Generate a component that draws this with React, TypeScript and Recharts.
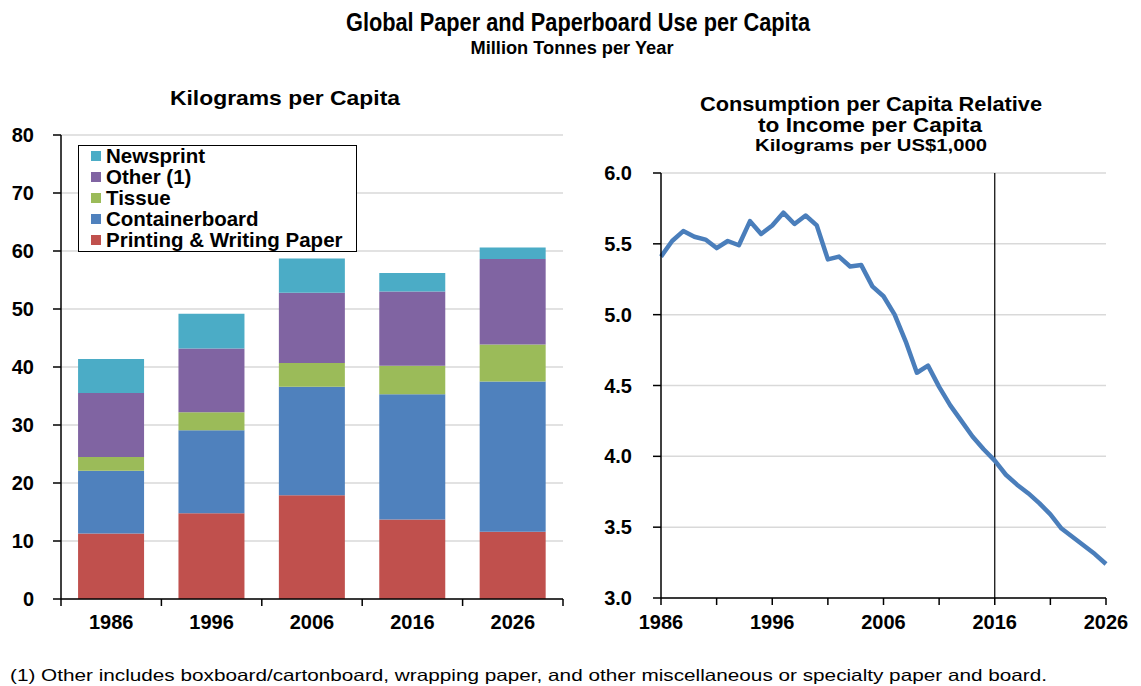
import React from 'react'
import {
  BarChart,
  Bar,
  LineChart,
  Line,
  XAxis,
  YAxis,
  CartesianGrid,
  Legend,
  ReferenceLine,
} from 'recharts'

// left panel: kilograms per capita by grade
const decades = ['1986', '1996', '2006', '2016', '2026']
const printingWriting = [11.3, 14.8, 17.9, 13.7, 11.6]
const containerboard = [10.8, 14.3, 18.7, 21.6, 25.9]
const tissue = [2.4, 3.1, 4.1, 4.9, 6.4]
const other = [11.0, 11.0, 12.1, 12.8, 14.7]
const newsprint = [5.9, 6.0, 5.9, 3.2, 2.0]
const kgTicks = [0, 10, 20, 30, 40, 50, 60, 70, 80]

// right panel: kg per US$1,000 of income
const years = [
  1986, 1987, 1988, 1989, 1990, 1991, 1992, 1993, 1994, 1995, 1996, 1997, 1998, 1999,
  2000, 2001, 2002, 2003, 2004, 2005, 2006, 2007, 2008, 2009, 2010, 2011, 2012, 2013,
  2014, 2015, 2016, 2017, 2018, 2019, 2020, 2021, 2022, 2023, 2024, 2025, 2026,
]
const ratio = [
  5.41, 5.52, 5.59, 5.55, 5.53, 5.47, 5.52, 5.49, 5.66, 5.57, 5.63, 5.72, 5.64, 5.7,
  5.63, 5.39, 5.41, 5.34, 5.35, 5.2, 5.13, 5.0, 4.81, 4.59, 4.64, 4.49, 4.36, 4.25,
  4.14, 4.05, 3.97, 3.87, 3.8, 3.74, 3.67, 3.59, 3.49, 3.43, 3.37, 3.31, 3.24,
]
const ratioTicks = [3, 3.5, 4, 4.5, 5, 5.5, 6]
const yearTicks = [1986, 1991, 1996, 2001, 2006, 2011, 2016, 2021, 2026]

const series = [
  { key: 'pw', name: 'Printing & Writing Paper', color: '#C0504D', values: printingWriting },
  { key: 'cb', name: 'Containerboard', color: '#4F81BD', values: containerboard },
  { key: 'ti', name: 'Tissue', color: '#9BBB59', values: tissue },
  { key: 'ot', name: 'Other (1)', color: '#8064A2', values: other },
  { key: 'np', name: 'Newsprint', color: '#4BACC6', values: newsprint },
]

const barData = decades.map((year, i) => {
  const row: Record<string, string | number> = { year }
  series.forEach((s) => (row[s.key] = s.values[i]))
  return row
})

const lineData = years.map((year, i) => ({ year, ratio: ratio[i] }))

const FONT = "'Liberation Sans', Arial, Helvetica, sans-serif"
const NARROW = "'Liberation Sans Narrow', 'Liberation Sans', Arial, sans-serif"
const tickStyle = { fontFamily: FONT, fontSize: 20, fontWeight: 700, fill: '#000' }
const axisLine = { stroke: '#000', strokeWidth: 1.5 }
const BAR_TICK = 7
const BAR_MARGIN = 9

function BarTick(props: any) {
  const { x, y, payload, index, visibleTicksCount } = props
  const half = payload?.offset || 50.2
  const top = y - BAR_TICK - BAR_MARGIN
  return (
    <g>
      <line x1={x - half} x2={x - half} y1={top} y2={top + BAR_TICK} stroke="#000" strokeWidth={1.5} />
      {index === visibleTicksCount - 1 && (
        <line x1={x + half} x2={x + half} y1={top} y2={top + BAR_TICK} stroke="#000" strokeWidth={1.5} />
      )}
      <text x={x} y={y} dy="0.71em" textAnchor="middle" style={tickStyle}>
        {payload.value}
      </text>
    </g>
  )
}

function YearTick(props: any) {
  const { x, y, payload } = props
  if ((payload.value - 1986) % 10 !== 0) return <g />
  return (
    <text x={x} y={y} dy="0.71em" textAnchor="middle" style={tickStyle}>
      {payload.value}
    </text>
  )
}

function LegendBox(props: any) {
  const payload = props.payload || []
  const order = [...series].reverse()
  return (
    <div
      style={{
        width: 279,
        height: 107,
        boxSizing: 'border-box',
        border: '1.5px solid #000',
        background: '#fff',
        fontFamily: FONT,
        fontWeight: 700,
        fontSize: 20.5,
        color: '#000',
      }}
    >
      {order.map((s) => {
        const item = payload.find((p: any) => p.value === s.name)
        return (
          <div key={s.key} style={{ height: 20.8, display: 'flex', alignItems: 'center', paddingLeft: 12 }}>
            <span style={{ width: 10, height: 10, background: item?.color || s.color, marginRight: 5 }} />
            <span style={{ whiteSpace: 'nowrap' }}>{s.name}</span>
          </div>
        )
      })}
    </div>
  )
}

export default function App() {
  return (
    <div style={{ position: 'absolute', left: 0, top: 0, width: 1141, height: 686, background: '#fff' }}>
      <svg width={1141} height={686} style={{ position: 'absolute', left: 0, top: 0 }}>
        <g fill="#000" fontWeight={700} fontFamily={FONT} textAnchor="middle">
          <text x={578} y={31} fontSize={25} textLength={464} lengthAdjust="spacingAndGlyphs" fontFamily={NARROW}>
            Global Paper and Paperboard Use per Capita
          </text>
          <text x={572} y={54} fontSize={18} textLength={203} lengthAdjust="spacingAndGlyphs" fontFamily={NARROW}>
            Million Tonnes per Year
          </text>
          <text x={285} y={105} fontSize={21} textLength={230} lengthAdjust="spacingAndGlyphs">
            Kilograms per Capita
          </text>
          <text x={871} y={111} fontSize={21} textLength={342} lengthAdjust="spacingAndGlyphs">
            Consumption per Capita Relative
          </text>
          <text x={870} y={132} fontSize={21} textLength={224} lengthAdjust="spacingAndGlyphs">
            to Income per Capita
          </text>
          <text x={871} y={151} fontSize={17} textLength={232} lengthAdjust="spacingAndGlyphs">
            Kilograms per US$1,000
          </text>
        </g>
        <text x={10} y={681} fontSize={16.5} fontFamily={FONT} fill="#000" textLength={1037} lengthAdjust="spacingAndGlyphs">
          (1) Other includes boxboard/cartonboard, wrapping paper, and other miscellaneous or specialty paper and board.
        </text>
      </svg>

      <div style={{ position: 'absolute', left: 0, top: 120 }}>
        <BarChart
          width={600}
          height={520}
          data={barData}
          margin={{ top: 15, right: 37, bottom: 0, left: 0 }}
          barCategoryGap="17%"
        >
          <CartesianGrid vertical={false} stroke="#d9d9d9" strokeWidth={1.5} />
          <XAxis
            dataKey="year"
            height={41}
            axisLine={axisLine}
            tickLine={false}
            tickSize={BAR_TICK}
            tickMargin={BAR_MARGIN}
            tick={<BarTick />}
            interval={0}
          />
          <XAxis xAxisId="top" dataKey="year" orientation="top" height={0} tick={false} tickLine={false} axisLine={axisLine} />
          <YAxis
            width={61}
            domain={[0, 80]}
            ticks={kgTicks}
            interval={0}
            axisLine={axisLine}
            tickLine={{ stroke: '#000', strokeWidth: 1.5 }}
            tickSize={8}
            tickMargin={19}
            tick={tickStyle}
          />
          <YAxis yAxisId="right" orientation="right" width={0} domain={[0, 80]} tick={false} tickLine={false} axisLine={axisLine} />
          <Legend
            layout="horizontal"
            verticalAlign="middle"
            align="center"
            content={<LegendBox />}
            wrapperStyle={{ left: 78, top: 25, width: 290, height: 110 }}
          />
          {series.map((s) => (
            <Bar key={s.key} dataKey={s.key} name={s.name} stackId="a" fill={s.color} isAnimationActive={false} />
          ))}
        </BarChart>
      </div>

      <div style={{ position: 'absolute', left: 590, top: 150 }}>
        <LineChart width={551} height={490} data={lineData} margin={{ top: 23, right: 35, bottom: 0, left: 0 }}>
          <CartesianGrid vertical={false} stroke="#d9d9d9" strokeWidth={1.5} />
          <XAxis
            dataKey="year"
            type="number"
            domain={[1986, 2026]}
            ticks={yearTicks}
            interval={0}
            height={42}
            axisLine={axisLine}
            tickLine={{ stroke: '#000', strokeWidth: 1.5 }}
            tickSize={7}
            tickMargin={10}
            tick={<YearTick />}
          />
          <XAxis xAxisId="top" type="number" domain={[1986, 2026]} orientation="top" height={0} tick={false} tickLine={false} axisLine={axisLine} />
          <YAxis
            width={71}
            domain={[3, 6]}
            ticks={ratioTicks}
            interval={0}
            axisLine={axisLine}
            tickLine={{ stroke: '#000', strokeWidth: 1.5 }}
            tickSize={8}
            tickMargin={21}
            tick={tickStyle}
            tickFormatter={(v: number) => v.toFixed(1)}
          />
          <YAxis yAxisId="right" orientation="right" width={0} domain={[3, 6]} tick={false} tickLine={false} axisLine={axisLine} />
          <ReferenceLine x={2016} stroke="#000" strokeWidth={1.2} />
          <Line
            type="linear"
            dataKey="ratio"
            stroke="#4A7EBB"
            strokeWidth={4.5}
            strokeLinejoin="round"
            dot={false}
            activeDot={false}
            isAnimationActive={false}
          />
        </LineChart>
      </div>
    </div>
  )
}
